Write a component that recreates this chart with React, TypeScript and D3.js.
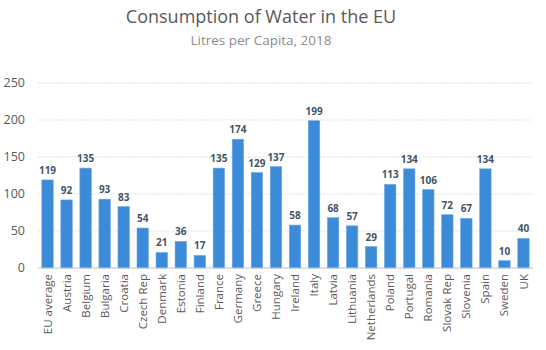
import React, { useEffect, useRef } from 'react';
import * as d3 from 'd3';

const categories = [
  'EU average', 'Austria', 'Belgium', 'Bulgaria', 'Croatia', 'Czech Rep', 'Denmark',
  'Estonia', 'Finland', 'France', 'Germany', 'Greece', 'Hungary', 'Ireland', 'Italy',
  'Latvia', 'Lithuania', 'Netherlands', 'Poland', 'Portugal', 'Romania', 'Slovak Rep',
  'Slovenia', 'Spain', 'Sweden', 'UK',
];
const litres = [
  119, 92, 135, 93, 83, 54, 21, 36, 17, 135, 174, 129, 137, 58, 199,
  68, 57, 29, 113, 134, 106, 72, 67, 134, 10, 40,
];
const yTicks = [0, 50, 100, 150, 200, 250];

const WIDTH = 546;
const HEIGHT = 350;
const MARGIN = { top: 83, right: 13, bottom: 82, left: 38 };
const FONT = '"Open Sans", sans-serif';
const BAR = '#3b8bd8';
const GREY = '#595959';

export default function App() {
  const svgRef = useRef<SVGSVGElement>(null);

  useEffect(() => {
    if (!svgRef.current) return;
    const root = d3.select(svgRef.current);
    root.selectAll('*').remove();

    const width = WIDTH - MARGIN.left - MARGIN.right;
    const height = HEIGHT - MARGIN.top - MARGIN.bottom;

    root.append('rect').attr('width', WIDTH).attr('height', HEIGHT).attr('fill', '#fff');

    root
      .append('text')
      .attr('x', 261)
      .attr('y', 23)
      .attr('text-anchor', 'middle')
      .style('font-family', FONT)
      .style('font-size', '18px')
      .style('fill', GREY)
      .text('Consumption of Water in the EU');

    root
      .append('text')
      .attr('x', 261)
      .attr('y', 45)
      .attr('text-anchor', 'middle')
      .style('font-family', FONT)
      .style('font-size', '13.5px')
      .style('fill', '#8c8c8c')
      .text('Litres per Capita, 2018');

    const g = root.append('g').attr('transform', `translate(${MARGIN.left},${MARGIN.top})`);

    const x = d3.scaleBand().domain(categories).range([0, width]).paddingInner(0.4).paddingOuter(0.2);
    const y = d3.scaleLinear().domain([0, 250]).range([height, 0]);

    // faint dotted gridlines
    g.selectAll('.grid')
      .data(yTicks.filter(t => t > 0))
      .enter()
      .append('line')
      .attr('x1', 0)
      .attr('x2', width)
      .attr('y1', d => y(d))
      .attr('y2', d => y(d))
      .attr('stroke', '#e3e3e3')
      .attr('stroke-dasharray', '2,1');

    g.selectAll('.ytick')
      .data(yTicks)
      .enter()
      .append('text')
      .attr('x', -13)
      .attr('y', d => y(d))
      .attr('dy', '0.35em')
      .attr('text-anchor', 'end')
      .style('font-family', FONT)
      .style('font-size', '12.5px')
      .style('fill', GREY)
      .text(d => d);

    const data = categories.map((c, i) => ({ label: c, value: litres[i] }));

    g.selectAll('.bar')
      .data(data)
      .enter()
      .append('rect')
      .attr('x', d => x(d.label) || 0)
      .attr('width', x.bandwidth())
      .attr('y', d => y(d.value))
      .attr('height', d => height - y(d.value))
      .attr('fill', BAR)
      .attr('stroke', '#6aa9e6')
      .attr('stroke-width', 0.6);

    g.selectAll('.value')
      .data(data)
      .enter()
      .append('text')
      .attr('x', d => (x(d.label) || 0) + x.bandwidth() / 2)
      .attr('y', d => y(d.value) - 6)
      .attr('text-anchor', 'middle')
      .style('font-family', FONT)
      .style('font-size', '10px')
      .style('font-weight', 'bold')
      .style('fill', '#44546a')
      .text(d => d.value);

    g.append('line')
      .attr('x1', 0)
      .attr('x2', width)
      .attr('y1', height)
      .attr('y2', height)
      .attr('stroke', '#bfbfbf')
      .attr('stroke-width', 1);

    g.selectAll('.xlabel')
      .data(categories)
      .enter()
      .append('text')
      .attr('transform', d => `translate(${(x(d) || 0) + x.bandwidth() / 2},${height + 6}) rotate(-90)`)
      .attr('dy', '0.35em')
      .attr('text-anchor', 'end')
      .style('font-family', FONT)
      .style('font-size', '11.5px')
      .style('fill', GREY)
      .text(d => d);
  }, []);

  return <svg ref={svgRef} width={WIDTH} height={HEIGHT} style={{ position: 'absolute', left: 0, top: 0 }} />;
}
